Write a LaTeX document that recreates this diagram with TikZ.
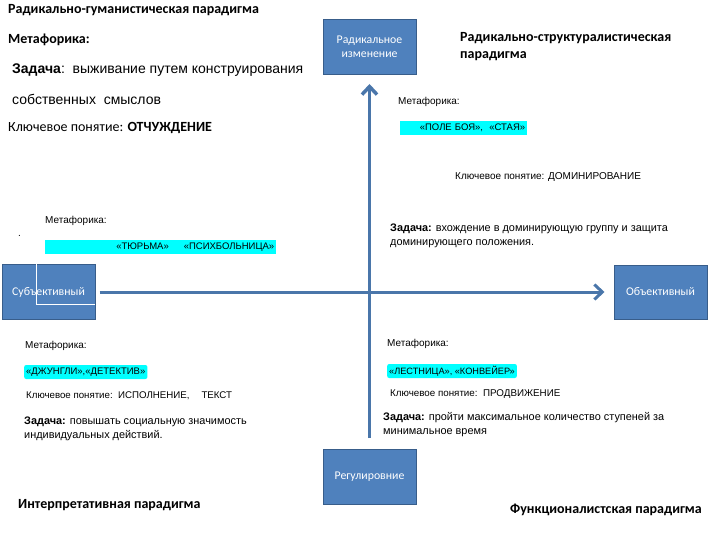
\documentclass[tikz,border=0pt]{standalone}
\usepackage{fontspec}
\setmainfont{Carlito}
\newfontfamily\arialfont{Liberation Sans}
\usetikzlibrary{arrows.meta}
\usetikzlibrary{positioning}
\definecolor{boxblue}{RGB}{79,129,189}
\definecolor{boxedge}{RGB}{56,93,138}
\definecolor{axisblue}{RGB}{74,118,170}
\definecolor{hlcyan}{RGB}{0,255,255}
\tikzset{
	axbox/.style={rectangle, fill=boxblue, draw=boxedge, line width=1pt, text=white,
		align=center, minimum width=93pt, minimum height=55pt, inner sep=1pt,
		font=\fontsize{11.8}{13.5}\selectfont},
	axis/.style={draw=axisblue, line width=3pt, -{Straight Barb[length=8pt,width=15pt]}},
	head/.style={inner sep=0pt, anchor=west, align=left, font=\bfseries\fontsize{14}{17}\selectfont},
	note/.style={inner sep=0pt, anchor=west, align=left, font=\arialfont\fontsize{10}{14}\selectfont},
	task/.style={note, font=\arialfont\fontsize{10.9}{14}\selectfont},
	hl/.style={fill=hlcyan, inner xsep=2pt, inner ysep=0pt, minimum height=14pt, anchor=west,
		font=\arialfont\fontsize{9.5}{11}\selectfont}
}

\begin{document}
\begin{tikzpicture}[x=1pt,y=-1pt]
					\useasboundingbox (0,0) rectangle (720,540);
					
					\node (rad) [axbox] at (369.5,47) {Радикальное\\изменение};
					\node (reg) [axbox] at (369.5,477) {Регулировние};
					\node (subj) [axbox] at (48.5,292) {Субъективный};
					\node (obj) [axbox, minimum height=54pt] at (660.5,292) {Объективный};
					\draw[white, line width=0.6pt] (36,256) -- (36,304) -- (95,304);
					
					\draw[axis, line width=3.5pt, shorten <=11pt, shorten >=9pt] (reg) -- (rad);
					\draw[axis, shorten <=4pt, shorten >=9pt] (subj) -- (obj);
					
					\node (rhTitle) [head] at (8,10) {Радикально-гуманистическая парадигма};
					\node (rhMet) [head] at (8,40) {Метафорика:};
					\node (rhTask) [note, font=\arialfont\fontsize{14}{16}\selectfont] at (12,70)
						{\textbf{Задача}:\ \ выживание путем конструирования};
					\node (rhTask2) [note, font=\arialfont\fontsize{14}{16}\selectfont] at (12,99)
						{собственных\ \ смыслов};
					\node (rhKey) [note, font=\fontsize{14}{16}\selectfont] at (8,128)
						{Ключевое понятие: \textbf{ОТЧУЖДЕНИЕ}};
					\node (rhMet2) [note] at (45,221) {Метафорика:};
					\node (rhDot) [note] at (18,236) {.};
					\node (rhHl) [hl, text width=227pt, align=right] at (45,247)
						{«ТЮРЬМА»\hspace{15pt}«ПСИХБОЛЬНИЦА»};
					
					\node (rsTitle) [head] at (460,46.5) {Радикально-структуралистическая\\парадигма};
					\node (rsMet) [note] at (398,102) {Метафорика:};
					\node (rsHl) [hl, text width=123pt, align=right] at (400,128) {«ПОЛЕ БОЯ»,\ \ «СТАЯ»};
					\node (rsKey) [note] at (455,177) {Ключевое понятие: ДОМИНИРОВАНИЕ};
					\node (rsTask) [task] at (390,236)
						{\textbf{Задача:} вхождение в доминирующую группу и защита\\доминирующего положения.};
					
					\node (ipMet) [note] at (25,346) {Метафорика:};
					\node (ipHl) [hl, rounded corners=2pt] at (24,372) {«ДЖУНГЛИ»,«ДЕТЕКТИВ»};
					\node (ipKey) [note, font=\arialfont\fontsize{9.7}{14}\selectfont] at (26,396)
						{Ключевое понятие:\ \ ИСПОЛНЕНИЕ,\hspace{12pt}ТЕКСТ};
					\node (ipTask) [task] at (24,429)
						{\textbf{Задача:} повышать социальную значимость\\индивидуальных действий.};
					\node (ipTitle) [head] at (18,505) {Интерпретативная парадигма};
					
					\node (fnMet) [note] at (387,344) {Метафорика:};
					\node (fnHl) [hl, rounded corners=2pt, font=\arialfont\fontsize{9.2}{11}\selectfont] at (387,371)
						{«ЛЕСТНИЦА», «КОНВЕЙЕР»};
					\node (fnKey) [note, font=\arialfont\fontsize{9.8}{14}\selectfont] at (390,394)
						{Ключевое понятие:\ \ ПРОДВИЖЕНИЕ};
					\node (fnTask) [task] at (383,425)
						{\textbf{Задача:} пройти максимальное количество ступеней за\\минимальное время};
					\node (fnTitle) [head] at (510,510) {Функционалистская парадигма};
					
				\end{tikzpicture}
\end{document}
